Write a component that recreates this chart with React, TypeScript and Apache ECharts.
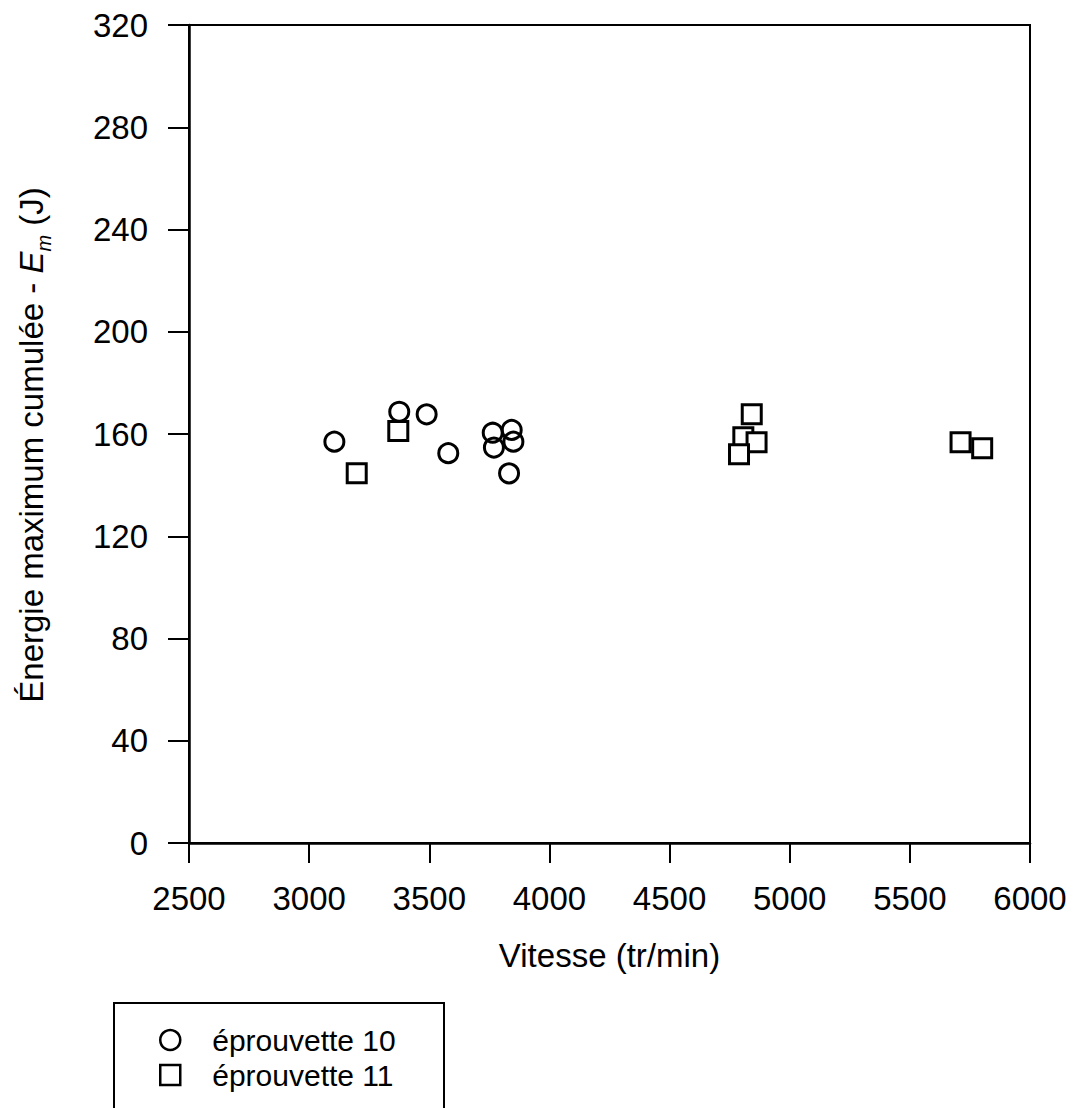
import React, { useEffect, useRef } from "react";
import * as echarts from "echarts";

const xTicks = [2500, 3000, 3500, 4000, 4500, 5000, 5500, 6000];
const yTicks = [0, 40, 80, 120, 160, 200, 240, 280, 320];

const seriesNames = ["éprouvette 10", "éprouvette 11"];

const eprouvette10Vitesse = [3105, 3375, 3489, 3579, 3764, 3769, 3843, 3850, 3832];
const eprouvette10Energie = [157, 168.7, 167.7, 152.5, 160.5, 154.7, 161.6, 157, 144.6];

const eprouvette11Vitesse = [3198, 3371, 4807, 4842, 4862, 4789, 5711, 5801];
const eprouvette11Energie = [144.6, 161.2, 158.7, 167.7, 156.8, 152.1, 156.8, 154.4];

const FONT = "'Liberation Sans', Arial, Helvetica, sans-serif";

export default function App() {
  const ref = useRef<HTMLDivElement>(null);

  useEffect(() => {
    document.body.style.margin = "0";
    if (!ref.current) return;
    const chart = echarts.init(ref.current, null, { renderer: "svg" });

    const pts = (xs: number[], ys: number[]) => xs.map((x, i) => [x, ys[i]]);

    const markerStyle = {
      color: "rgba(255,255,255,0)",
      borderColor: "#000",
      borderWidth: 3,
      opacity: 1,
    };

    chart.setOption({
      animation: false,
      backgroundColor: "#fff",
      textStyle: { fontFamily: FONT, color: "#000" },
      grid: {
        left: 189,
        right: 47,
        top: 25,
        bottom: 265,
        show: true,
        borderColor: "#000",
        borderWidth: 2,
        backgroundColor: "transparent",
      },
      graphic: [
        {
          type: "rect",
          left: 113,
          top: 1002,
          shape: { width: 330, height: 130 },
          style: { fill: "#fff", stroke: "#000", lineWidth: 2 },
          z: 0,
          silent: true,
        },
      ],
      xAxis: {
        type: "value",
        min: xTicks[0],
        max: xTicks[xTicks.length - 1],
        interval: 500,
        name: "Vitesse (tr/min)",
        nameLocation: "middle",
        nameGap: 96,
        nameTextStyle: { fontSize: 33, fontFamily: FONT, color: "#000" },
        axisLine: { show: true, lineStyle: { color: "#000", width: 2.5 } },
        axisTick: { show: true, inside: false, length: 20, lineStyle: { color: "#000", width: 2 } },
        axisLabel: { fontSize: 33, fontFamily: FONT, color: "#000", margin: 39, formatter: (v: number) => String(v) },
        splitLine: { show: false },
      },
      yAxis: {
        type: "value",
        min: yTicks[0],
        max: yTicks[yTicks.length - 1],
        interval: 40,
        name: "{a|Énergie maximum cumulée - }{i|E}{s|m}{a| (J)}{p|}",
        nameLocation: "middle",
        nameGap: 141,
        nameRotate: 90,
        nameTextStyle: {
          fontFamily: FONT,
          color: "#000",
          rich: {
            a: { fontSize: 33, fontFamily: FONT, color: "#000", verticalAlign: "bottom", lineHeight: 40 },
            i: { fontSize: 33, fontFamily: FONT, color: "#000", fontStyle: "italic", verticalAlign: "bottom", lineHeight: 40 },
            s: { fontSize: 20, fontFamily: FONT, color: "#000", fontStyle: "italic", verticalAlign: "bottom", lineHeight: 30, padding: [0, 0, -6, 0] },
            p: { width: 22, fontSize: 33, lineHeight: 40 },
          },
        },
        axisLine: { show: true, lineStyle: { color: "#000", width: 2.5 } },
        axisTick: { show: true, inside: false, length: 21, lineStyle: { color: "#000", width: 2 } },
        axisLabel: { fontSize: 33, fontFamily: FONT, color: "#000", margin: 41, formatter: (v: number) => String(v) },
        splitLine: { show: false },
      },
      legend: {
        orient: "vertical",
        left: 113,
        top: 1002,
        padding: [23, 10, 4, 46],
        itemGap: 5,
        itemWidth: 20,
        itemHeight: 20,
        borderWidth: 0,
        z: 5,
        textStyle: { fontSize: 30, fontFamily: FONT, color: "#000", padding: [0, 0, 0, 27], lineHeight: 30 },
        data: [
          { name: seriesNames[0], icon: "circle", itemStyle: { color: "#fff", borderColor: "#000", borderWidth: 2.5, opacity: 1 } },
          { name: seriesNames[1], icon: "rect", itemStyle: { color: "#fff", borderColor: "#000", borderWidth: 2.5, opacity: 1 } },
        ],
      },
      series: [
        {
          name: seriesNames[0],
          type: "scatter",
          symbol: "circle",
          symbolSize: 19,
          itemStyle: markerStyle,
          data: pts(eprouvette10Vitesse, eprouvette10Energie),
        },
        {
          name: seriesNames[1],
          type: "scatter",
          symbol: "rect",
          symbolSize: 19,
          itemStyle: { ...markerStyle, color: "#fff" },
          data: pts(eprouvette11Vitesse, eprouvette11Energie),
        },
      ],
    });

    return () => chart.dispose();
  }, []);

  return <div ref={ref} style={{ width: 1077, height: 1108 }} />;
}
